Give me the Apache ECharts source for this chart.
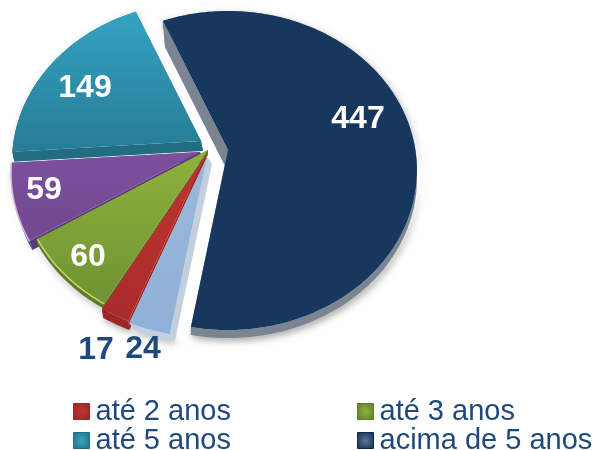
<!DOCTYPE html>
<html>
<head>
<meta charset="utf-8">
<style>html,body{margin:0;padding:0;background:#fff}#main{width:598px;height:450px}</style>
<script src="https://cdn.jsdelivr.net/npm/echarts@6/dist/echarts.min.js"></script>
</head>
<body>
<div id="main"></div>
<script>
// dados lidos do grafico, no sentido horario a partir da fatia maior
const categories = ['acima de 5 anos', 'até 1 ano', 'até 2 anos', 'até 3 anos', 'até 4 anos', 'até 5 anos']
const values = [447, 24, 17, 60, 59, 149]
const legendLeft = ['até 2 anos', 'até 5 anos']
const legendRight = ['até 3 anos', 'acima de 5 anos']

// perspectiva do disco
const pie = { x: 208, y: 150, a: 187.4, b: 156.9, k: 0.1286, start: -22.9 }
const total = values.reduce((s, v) => s + v, 0)
const before = values.map((v, i) => values.slice(0, i).reduce((s, n) => s + n, 0))

const looks = [
  { top: ['#17375e', '#17375e'], wall: '#7b8592', dark: '#10294a', spot: '#5b7596', explode: [20, 0], lift: [0, 8], cut: [2, 26], label: [130, -31], text: '#fff' },
  { top: ['#9bb8da', '#8fb0d8'], wall: '#c3cfdd', explode: [-1, 7], lift: [5, 7], label: [-64, 192], text: '#1f497d' },
  { top: ['#c0342f', '#a82c2c'], wall: '#9c2626', explode: [-2, 5], lift: [1, 9], label: [-110, 195], text: '#1f497d' },
  { top: ['#8fb23c', '#6f9233'], wall: '#5d7a2a', explode: [0, 0], lift: [0, 5], rim: '#c2d96a', label: [-120, 107], text: '#fff' },
  { top: ['#7d4f9f', '#70498e'], wall: '#583a7c', explode: [-8, 2], lift: [3, 9], rim: '#cdb8e0', label: [-156, 38], text: '#fff' },
  { top: ['#35a2c2', '#267c96'], wall: '#226d82', explode: [-7, -9], lift: [2, 10], label: [-116, -53], text: '#fff' }
]
const drawOrder = [5, 4, 0, 3, 2, 1]

function rimPoint(deg, cx, cy) {
  const r = (deg * Math.PI) / 180
  const d = 1 + pie.k * Math.cos(r)
  return [cx + (pie.a * Math.sin(r)) / d, cy - (pie.b * Math.cos(r)) / d]
}

function renderSlice(look) {
  return function (params, api) {
    const v = api.value(0)
    const from = pie.start + (api.value(1) / total) * 360
    const to = from + (v / total) * 360
    const cx = pie.x + look.explode[0]
    const cy = pie.y + look.explode[1]
    const rim = []
    for (let d = from; d < to; d += 1) rim.push(rimPoint(d, cx, cy))
    rim.push(rimPoint(to, cx, cy))
    const top = [[cx, cy]].concat(rim)
    const shift = (pts, o) => pts.map((p) => [p[0] + o[0], p[1] + o[1]])
    const children = []
    // parede externa e sombra
    children.push({
      type: 'polygon',
      shape: { points: rim.concat(shift(rim, look.lift).reverse()) },
      style: { fill: look.wall, shadowBlur: 7, shadowColor: 'rgba(0,0,0,0.35)', shadowOffsetX: 2, shadowOffsetY: 3 }
    })
    // face do corte
    const lastCut = look.cut || look.lift
    const startEdge = [[cx, cy], rim[0]]
    const endEdge = [[cx, cy], rim[rim.length - 1]]
    children.push({
      type: 'polygon',
      shape: { points: startEdge.concat(shift(startEdge, lastCut).reverse()) },
      style: { fill: look.wall }
    })
    children.push({
      type: 'polygon',
      shape: { points: endEdge.concat(shift(endEdge, look.lift).reverse()) },
      style: { fill: look.wall }
    })
    children.push({
      type: 'polygon',
      shape: { points: top },
      style: {
        fill: new echarts.graphic.LinearGradient(0, 0, 0, 1, [
          { offset: 0, color: look.top[0] },
          { offset: 1, color: look.top[1] }
        ])
      }
    })
    if (look.rim) {
      children.push({
        type: 'polyline',
        shape: { points: rim },
        style: { fill: 'none', stroke: look.rim, lineWidth: 1.5 }
      })
    }
    children.push({
      type: 'text',
      z2: 10,
      style: {
        text: String(v),
        x: cx + look.label[0],
        y: cy + look.label[1],
        fill: look.text,
        font: 'bold 32px "Liberation Sans", Arial, sans-serif',
        align: 'center',
        verticalAlign: 'middle'
      }
    })
    return { type: 'group', children }
  }
}

function legendEntry(name) {
  const look = looks[categories.indexOf(name)]
  const edge = look.dark || look.wall
  return {
    name,
    itemStyle: {
      color: new echarts.graphic.RadialGradient(0.5, 0.5, 0.7, [
        { offset: 0, color: look.spot || look.top[0] },
        { offset: 1, color: edge }
      ]),
      borderColor: edge,
      borderWidth: 1
    }
  }
}

const legendBase = {
  orient: 'vertical',
  top: 397,
  height: 80,
  icon: 'rect',
  itemWidth: 16,
  itemHeight: 16,
  itemGap: 0,
  padding: 0,
  selectedMode: false,
  textStyle: { color: '#1f497d', fontSize: 29, lineHeight: 29, padding: [0, 0, 0, 1], fontFamily: '"Liberation Sans", Arial, sans-serif' }
}

const chart = echarts.init(document.getElementById('main'), null, { renderer: 'canvas' })
chart.setOption({
  animation: false,
  backgroundColor: '#fff',
  legend: [
    Object.assign({}, legendBase, { left: 73, data: legendLeft.map(legendEntry) }),
    Object.assign({}, legendBase, { left: 357, data: legendRight.map(legendEntry) })
  ],
  series: drawOrder.map((i) => ({
    type: 'custom',
    name: categories[i],
    coordinateSystem: 'none',
    silent: true,
    clip: false,
    itemStyle: { color: looks[i].top[0] },
    data: [[values[i], before[i]]],
    renderItem: renderSlice(looks[i])
  }))
})
</script>
</body>
</html>
